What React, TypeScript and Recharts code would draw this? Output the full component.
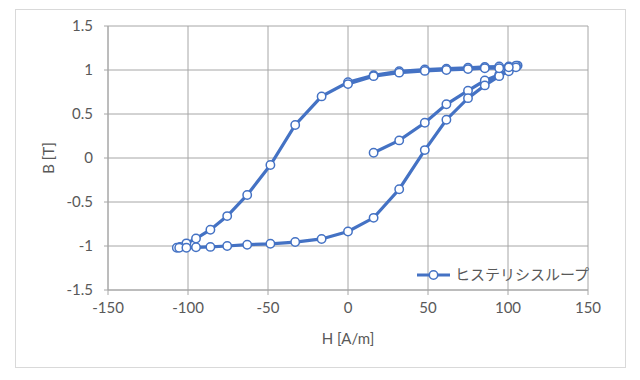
import React from "react";
import { LineChart, Line, XAxis, YAxis, CartesianGrid, Label } from "recharts";

const hValues = [
  16, 32, 48, 61.5, 75, 85.5, 94.5, 100.5, 105, 106,
  105, 100.5, 94.5, 85.5, 75, 61.5, 48, 32, 16, 0, -16.5, -33, -48.5, -63, -75.5, -86, -95, -101, -105, -107,
  -105.5, -101, -95, -86, -75.5, -63, -48.5, -33, -16.5, 0, 16, 32, 48, 61.5, 75, 85.5, 94.5, 100.5, 105,
  100.5, 94.5, 85.5, 75, 61.5, 48, 32, 16, 0,
];
const bValues = [
  0.06, 0.2, 0.4, 0.61, 0.765, 0.88, 0.945, 1.0, 1.04, 1.05,
  1.05, 1.04, 1.04, 1.035, 1.025, 1.015, 1.005, 0.985, 0.94, 0.86, 0.7, 0.375, -0.08, -0.42, -0.66, -0.815, -0.915, -0.97, -1.01, -1.02,
  -1.02, -1.02, -1.015, -1.01, -1.0, -0.985, -0.975, -0.955, -0.92, -0.835, -0.68, -0.355, 0.09, 0.435, 0.68, 0.825, 0.93, 0.985, 1.03,
  1.03, 1.02, 1.02, 1.01, 1.0, 0.99, 0.97, 0.93, 0.84,
];
const xTicks = [-150, -100, -50, 0, 50, 100, 150];
const yTicks = [-1.5, -1, -0.5, 0, 0.5, 1, 1.5];
const seriesName = "ヒステリシスループ";

const data = hValues.map((h, i) => ({ H: h, B: bValues[i] }));

const BLUE = "#4472C4";
const GRID = "#a6a6a6";
const TEXT = "#595959";
const FONT = "Lato, 'Noto Sans', sans-serif";
const FS = 15;

const YLabel = () => (
  <text
    x={50}
    y={158}
    transform="rotate(-90 50 158)"
    textAnchor="middle"
    dominantBaseline="middle"
    fontSize={FS}
    fill={TEXT}
    fontFamily={FONT}
  >
    B [T]
  </text>
);

export default function App() {
  return (
    <div style={{ position: "absolute", left: 0, top: 0, width: 640, height: 380, background: "#fff" }}>
      <div
        style={{
          position: "absolute",
          left: 15,
          top: 9,
          width: 609,
          height: 357,
          border: "1px solid #d9d9d9",
        }}
      />
      <div style={{ position: "absolute", left: 0, top: 0 }}>
        <LineChart width={640} height={380} data={data} margin={{ top: 26, right: 52, bottom: 30, left: 0 }}>
          <CartesianGrid stroke={GRID} strokeWidth={1} />
          <XAxis
            dataKey="H"
            type="number"
            domain={[-150, 150]}
            ticks={xTicks}
            allowDataOverflow
            height={60}
            stroke={GRID}
            tickSize={5}
            tickMargin={7}
            tick={{ fill: TEXT, fontSize: FS, fontFamily: FONT }}
          >
            <Label value="H [A/m]" position="insideBottom" offset={6} fill={TEXT} fontSize={FS} fontFamily={FONT} />
          </XAxis>
          <YAxis
            dataKey="B"
            type="number"
            domain={[-1.5, 1.5]}
            ticks={yTicks}
            width={108}
            stroke={GRID}
            tickSize={4}
            tickMargin={11}
            tick={{ fill: TEXT, fontSize: FS, fontFamily: FONT }}
          >
            <Label content={<YLabel />} />
          </YAxis>
          <Line
            name={seriesName}
            dataKey="B"
            type="linear"
            stroke={BLUE}
            strokeWidth={3.2}
            dot={{ r: 4.2, fill: "#fff", stroke: BLUE, strokeWidth: 1.5 }}
            isAnimationActive={false}
          />
        </LineChart>
      </div>
      <svg style={{ position: "absolute", left: 413, top: 264 }} width={190} height={22}>
        <line x1={4} y1={11} x2={37} y2={11} stroke={BLUE} strokeWidth={3.2} />
        <circle cx={20.5} cy={11} r={4.2} fill="#fff" stroke={BLUE} strokeWidth={1.5} />
        <text x={42} y={16} fontSize={15} fill={TEXT} fontFamily="'Noto Sans CJK JP', sans-serif">
          {seriesName}
        </text>
      </svg>
    </div>
  );
}
